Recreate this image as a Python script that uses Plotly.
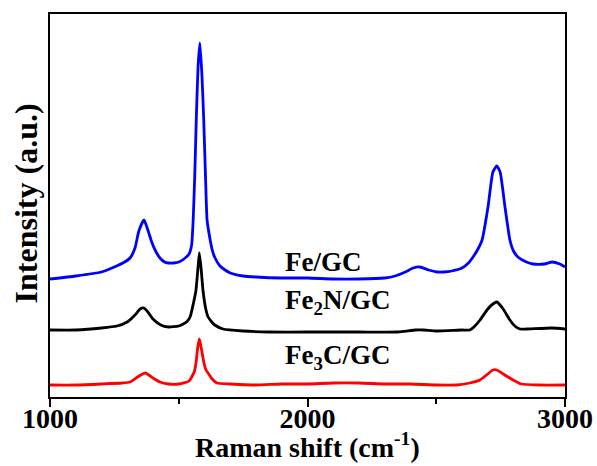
import plotly.graph_objects as go

# Raman shift (cm^-1) and intensity (a.u., offset-stacked as in the figure)
fe_x = [1000, 1100, 1200, 1250, 1290, 1311, 1330, 1345, 1365, 1380, 1395, 1408, 1427, 1445,
        1460, 1480, 1500, 1520, 1540, 1550, 1556, 1562, 1568, 1575, 1582, 1590, 1597, 1604,
        1610, 1620, 1630, 1641, 1660, 1680, 1700, 1750, 1800, 1900, 2000, 2100, 2200, 2300,
        2340, 2380, 2410, 2437, 2470, 2503, 2530, 2560, 2600, 2625, 2643, 2660, 2678, 2701,
        2720, 2735, 2748, 2767, 2786, 2800, 2817, 2850, 2876, 2920, 2950, 2980, 3000]
fe_y = [118, 121, 125, 130, 135, 139, 149, 166, 177, 167, 155, 147, 139, 135,
        134, 134, 135, 138, 143, 152, 177, 220, 277, 330, 354, 322, 277, 220,
        177, 160, 147, 139, 131, 127, 124, 121, 120, 119, 119, 118, 118, 119,
        121, 125, 129, 130, 127, 125, 125, 126, 129, 134, 140, 147, 157, 190,
        225, 231, 225, 190, 157, 146, 140, 135, 133, 133, 135, 133, 130]

fe2n_x = [1000, 1100, 1200, 1260, 1300, 1330, 1350, 1365, 1380, 1400, 1430, 1460, 1500,
          1530, 1544, 1558, 1567, 1575, 1580, 1587, 1594, 1605, 1614, 1625, 1640, 1672,
          1750, 1850, 2000, 2200, 2350, 2420, 2450, 2500, 2600, 2630, 2650, 2670, 2700,
          2720, 2735, 2760, 2786, 2805, 2825, 2850, 2950, 3000]
fe2n_y = [67, 67, 69, 71, 75, 82, 88, 89, 85, 78, 72, 70, 71,
          75, 80, 95, 107, 130, 144, 128, 107, 88, 80, 76, 72, 68,
          66, 65, 65, 65, 65, 67, 67, 66, 67, 67, 71, 77, 88,
          93, 95, 88, 77, 71, 68, 68, 69, 68]

fe3c_x = [1000, 1100, 1200, 1280, 1311, 1340, 1370, 1400, 1427, 1460, 1500, 1540, 1560,
          1567, 1574, 1580, 1588, 1598, 1606, 1614, 1630, 1648, 1700, 1800, 1900, 2000,
          2100, 2200, 2300, 2400, 2500, 2580, 2630, 2670, 2700, 2720, 2735, 2760, 2798,
          2830, 2900, 3000]
fe3c_y = [12, 12, 13, 14, 15, 20, 24, 19, 15, 13, 13, 16, 25,
          34, 50, 58, 48, 34, 27, 24, 18, 14, 13, 12, 13, 13,
          14, 14, 13, 13, 12, 12, 14, 17, 23, 27, 27, 23, 17,
          13, 12, 12]

series = [
    ("Fe/GC", fe_x, fe_y, "#0000ff"),
    ("Fe<sub>2</sub>N/GC", fe2n_x, fe2n_y, "#000000"),
    ("Fe<sub>3</sub>C/GC", fe3c_x, fe3c_y, "#ff0000"),
]
label_x = 1905
label_y = [135, 95, 40]

FONT = "Liberation Serif"

fig = go.Figure()
for name, xs, ys, col in series:
    fig.add_trace(go.Scatter(x=xs, y=ys, mode="lines", name=name,
                             line=dict(color=col, width=2.8, shape="spline", smoothing=0.5),
                             showlegend=False))

for (name, _, _, _), ly in zip(series, label_y):
    fig.add_annotation(x=label_x, y=ly, text=name, showarrow=False,
                       xanchor="left", yanchor="middle",
                       font=dict(family=FONT, size=27, color="black", weight="bold"))

# axis titles
fig.add_annotation(xref="paper", yref="paper", x=0.5, y=-0.178, yanchor="bottom",
                   text="Raman shift (cm<sup>-1</sup>)", showarrow=False,
                   font=dict(family=FONT, size=28, color="black", weight="bold"))
fig.add_annotation(xref="paper", yref="paper", x=-0.047, y=0.505, xanchor="center",
                   yanchor="middle", textangle=-90,
                   text="Intensity (a.u.)", showarrow=False,
                   font=dict(family=FONT, size=32, color="black", weight="bold"))

fig.update_layout(
    width=597, height=466,
    margin=dict(l=50, r=32, t=14, b=69),
    paper_bgcolor="white", plot_bgcolor="white",
    font=dict(family=FONT, color="black"),
)
fig.update_xaxes(
    range=[1000, 3000], tickvals=[1000, 2000, 3000], automargin=False,
    ticks="outside", ticklen=8, tickwidth=2, tickcolor="black",
    showline=True, linewidth=2, linecolor="black", mirror=True,
    showgrid=False, zeroline=False, ticklabelstandoff=-13,
    minor=dict(tickvals=[1500, 2500], ticks="outside", ticklen=5, tickwidth=2,
               tickcolor="black", showgrid=False),
    tickfont=dict(family=FONT, size=28, color="black", weight="bold"),
)
fig.update_yaxes(
    range=[0, 383], showticklabels=False, ticks="", automargin=False,
    showline=True, linewidth=2, linecolor="black", mirror=True,
    showgrid=False, zeroline=False,
)

fig.write_html("out.html")
